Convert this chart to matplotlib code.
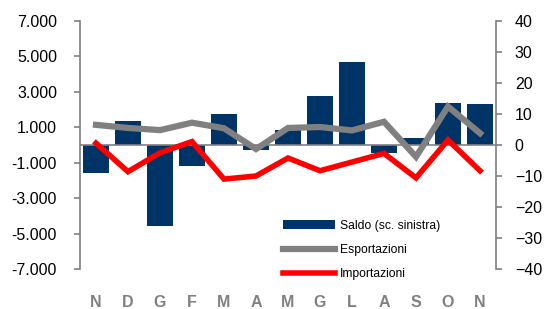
from matplotlib import pyplot as plt
from matplotlib.ticker import FuncFormatter
import numpy as np

mesi = ["N", "D", "G", "F", "M", "A", "M", "G", "L", "A", "S", "O", "N"]

# saldo in milioni (scala sinistra)
saldo = [-1600, 1350, -4600, -1200, 1750, -280, 850, 2770, 4690, -450, 400, 2370, 2310]
# variazioni % (scala destra)
esportazioni = [6.5, 5.5, 4.8, 7.2, 5.4, -1.3, 5.5, 5.8, 4.7, 7.5, -3.8, 12.4, 3.8]
importazioni = [0.6, -8.6, -2.5, 1.1, -11.0, -10.0, -4.2, -8.3, -5.5, -2.7, -10.6, 1.6, -8.3]

blu = "#003366"
grigio = "#808080"
rosso = "#ff0000"

plt.rcParams['font.family'] = ['Liberation Sans', 'DejaVu Sans']

fig = plt.figure(figsize=(5.48, 3.09), dpi=100)
ax = fig.add_axes([80 / 548, 1 - 269 / 309, 416 / 548, 248 / 309])
ax2 = ax.twinx()

x = np.arange(len(mesi))
barre = ax.bar(x, saldo, width=0.84, color=blu, label="Saldo (sc. sinistra)", zorder=2)
ax.axhline(0, color=grigio, lw=1.2, zorder=3)

l1, = ax2.plot(x, esportazioni, color=grigio, lw=4.5, label="Esportazioni", solid_joinstyle='miter')
l2, = ax2.plot(x, importazioni, color=rosso, lw=4.0, label="Importazioni", solid_joinstyle='miter')

ax.set_xlim(-0.5, len(mesi) - 0.5)
ax.set_ylim(-7000, 7000)
ax.set_yticks(np.arange(-7000, 7001, 2000))
ax.yaxis.set_major_formatter(FuncFormatter(lambda v, p: "{:,.0f}".format(v).replace(",", ".")))
ax2.set_ylim(-40, 40)
ax2.set_yticks(np.arange(-40, 41, 10))

for a in (ax, ax2):
    for s in ["top", "bottom"]:
        a.spines[s].set_visible(False)
    a.tick_params(axis='y', labelsize=11.5, colors=grigio, labelcolor="black", length=4.5, width=1.2)
ax.tick_params(axis='y', pad=12)
ax2.tick_params(axis='y', pad=9)
ax.spines["left"].set_color(grigio)
ax.spines["left"].set_linewidth(1.2)
ax.spines["right"].set_visible(False)
ax2.spines["left"].set_visible(False)
ax2.spines["right"].set_color(grigio)
ax2.spines["right"].set_linewidth(1.2)

ax.set_xticks(x)
ax.set_xticklabels(mesi, fontsize=11.5, fontweight="bold", color=grigio)
ax.tick_params(axis='x', length=0, pad=19)

ax2.legend([barre, l1, l2], ["Saldo (sc. sinistra)", "Esportazioni", "Importazioni"],
           loc="lower left", bbox_to_anchor=(0.463, -0.088), frameon=False, fontsize=8.7,
           handlelength=4.3, handletextpad=0.4, labelspacing=1.0)

fig.savefig("out.png", dpi=100)
